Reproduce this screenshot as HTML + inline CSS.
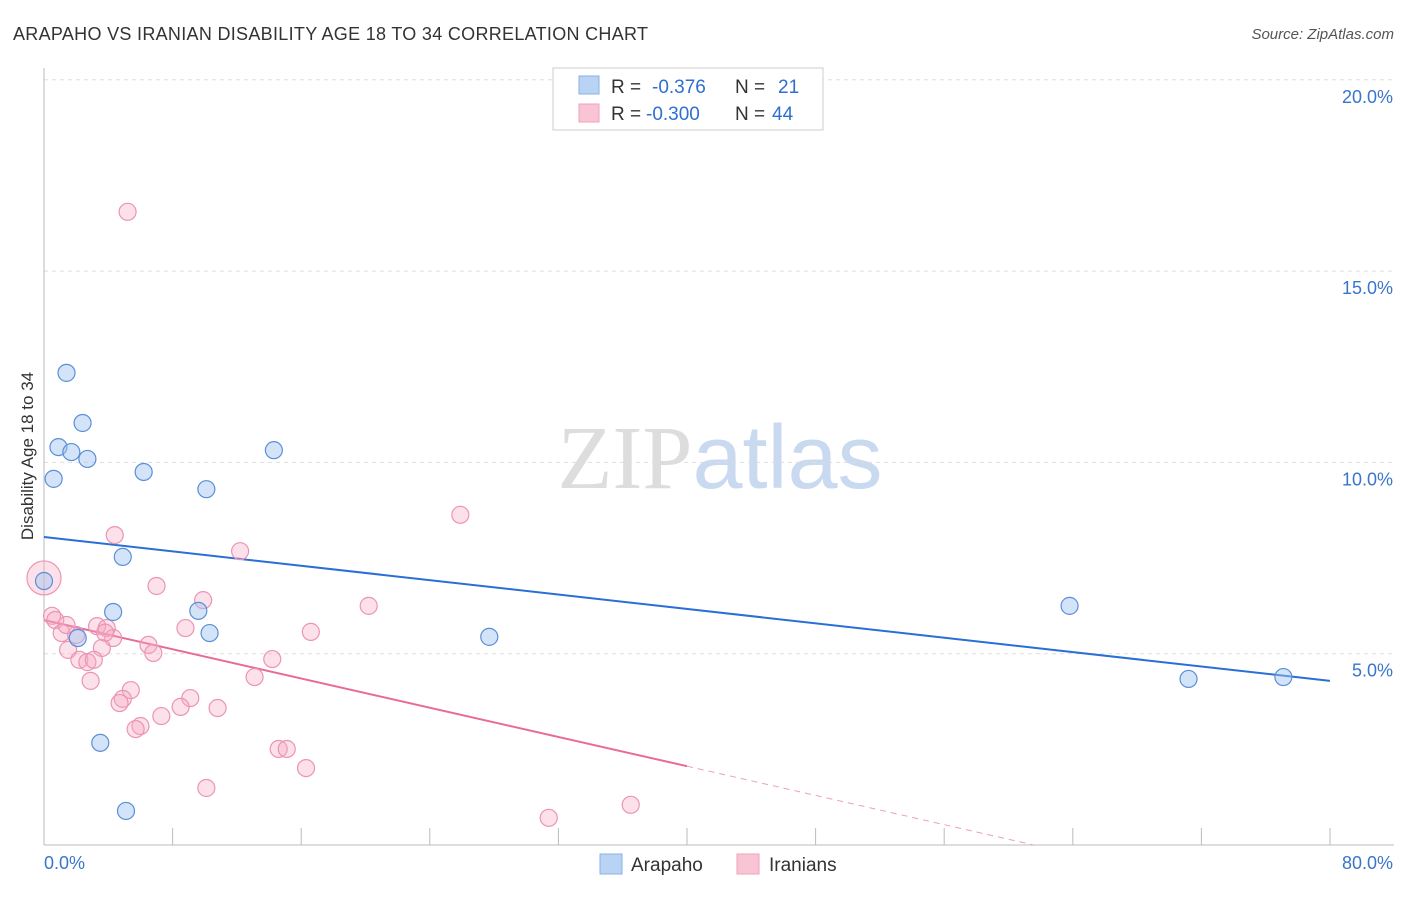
<!DOCTYPE html>
<html><head><meta charset="utf-8"><style>
body{margin:0;background:#fff;font-family:"Liberation Sans",sans-serif}
svg text{font-family:"Liberation Sans",sans-serif}
</style></head><body>
<svg id="chart" width="1406" height="892" viewBox="0 0 1406 892" xmlns="http://www.w3.org/2000/svg">
<text x="13" y="40" font-size="18" fill="#333" textLength="635">ARAPAHO VS IRANIAN DISABILITY AGE 18 TO 34 CORRELATION CHART</text>
<text x="1394" y="39" font-size="15" fill="#555" text-anchor="end" font-style="italic">Source: ZipAtlas.com</text>
<text x="720" y="488" font-size="90" text-anchor="middle"><tspan fill="#ddd" font-family="Liberation Serif">ZIP</tspan><tspan fill="#c9d9ef">atlas</tspan></text>
<g id="grid"></g>
<g id="axes"></g>
<g id="lines"></g>
<g id="points"></g>
<text transform="translate(33,456) rotate(-90)" font-size="17" fill="#333" text-anchor="middle">Disability Age 18 to 34</text>
<g>
<rect x="553" y="68" width="270" height="62" fill="#fff" stroke="#ccc"/>
<rect x="579" y="76" width="20" height="18" fill="#b9d3f5" stroke="#8ab0e6"/>
<rect x="579" y="104" width="20" height="18" fill="#f9c5d5" stroke="#eea2ba"/>
<text x="611" y="93" font-size="19" fill="#333">R =</text>
<text x="652" y="93" font-size="19" fill="#2f6fd0">-0.376</text>
<text x="735" y="93" font-size="19" fill="#333">N =</text>
<text x="778" y="93" font-size="19" fill="#2f6fd0">21</text>
<text x="611" y="120" font-size="19" fill="#333">R =</text>
<text x="646" y="120" font-size="19" fill="#2f6fd0">-0.300</text>
<text x="735" y="120" font-size="19" fill="#333">N =</text>
<text x="772" y="120" font-size="19" fill="#2f6fd0">44</text>
</g>
<g>
<rect x="600" y="854" width="22" height="20" fill="#b9d3f5" stroke="#8ab0e6"/>
<text x="631" y="871" font-size="19" fill="#333">Arapaho</text>
<rect x="737" y="854" width="22" height="20" fill="#f9c5d5" stroke="#eea2ba"/>
<text x="769" y="871" font-size="19" fill="#333">Iranians</text>
</g>
</svg>
<script>
const yTicks=[5,10,15,20];
const yTickLabels=["5.0%","10.0%","15.0%","20.0%"];
const xTickCount=10;
const arapahoX=[0,1.4,0.9,0.6,1.7,2.4,2.7,6.2,10.1,14.3,4.9,4.3,9.6,10.3,2.1,3.5,5.1,27.7,63.8,71.2,77.1];
const arapahoY=[6.9,12.34,10.4,9.57,10.27,11.03,10.09,9.75,9.3,10.32,7.53,6.09,6.12,5.54,5.41,2.67,0.89,5.44,6.25,4.34,4.39];
const iranX=[5.2,25.9,0,0.5,0.7,4.4,12.2,7.0,9.9,20.2,1.1,2.0,3.3,3.9,4.3,8.8,16.6,6.5,6.8,1.5,3.6,2.2,2.7,3.1,14.2,2.9,13.1,5.4,4.9,4.7,9.1,8.5,10.8,7.3,6.0,5.7,14.6,15.1,16.3,10.1,36.5,31.4,1.4,3.8];
const iranY=[16.55,8.63,6.98,5.99,5.88,8.1,7.68,6.77,6.4,6.25,5.54,5.49,5.72,5.67,5.41,5.67,5.57,5.23,5.02,5.1,5.15,4.84,4.78,4.84,4.86,4.29,4.39,4.05,3.82,3.71,3.84,3.61,3.58,3.37,3.11,3.03,2.51,2.51,2.01,1.49,1.05,0.71,5.75,5.55];
const arapahoTrend=[8.05,4.29];
const iranTrend=[5.88,2.06];
const NS="http://www.w3.org/2000/svg";
const X=v=>44+v*(1286/80), Y=v=>845-v*38.26;
function mk(t,a,p){const e=document.createElementNS(NS,t);for(const k in a)e.setAttribute(k,a[k]);p.appendChild(e);return e;}
const grid=document.getElementById('grid'),axes=document.getElementById('axes'),lines=document.getElementById('lines'),pts=document.getElementById('points');
yTicks.forEach((t,i)=>{
 let g=mk('line',{x1:44,x2:1394,y1:Y(t),y2:Y(t),stroke:'#ddd','stroke-dasharray':'4,4'},grid);
 
 
 let l=mk('text',{x:1393,y:Y(t)+23,'font-size':18,fill:'#3a75cc','text-anchor':'end'},axes);
 l.textContent=yTickLabels[i];
 
 
});
mk('line',{x1:44,x2:44,y1:68,y2:845,stroke:'#bbb'},axes);
mk('line',{x1:44,x2:1394,y1:845,y2:845,stroke:'#bbb'},axes);
for(let i=0;i<=xTickCount;i++){let t=mk('line',{x1:X(i*8),x2:X(i*8),y1:828,y2:845,stroke:'#bbb'},axes);
 
 }
let a=mk('text',{x:44,y:869,'font-size':18,fill:'#3a75cc'},axes);a.textContent='0.0%';

let b=mk('text',{x:1393,y:869,'font-size':18,fill:'#3a75cc','text-anchor':'end'},axes);b.textContent='80.0%';

let bl=mk('line',{x1:X(0),y1:Y(arapahoTrend[0]),x2:X(80),y2:Y(arapahoTrend[1]),stroke:'#2a6fd6','stroke-width':2},lines);

let pl=mk('line',{x1:X(0),y1:Y(iranTrend[0]),x2:X(40),y2:Y(iranTrend[1]),stroke:'#e8699a','stroke-width':2},lines);

const sl=(iranTrend[1]-iranTrend[0])/40, xz=-iranTrend[0]/sl;
let pd=mk('line',{x1:X(40),y1:Y(iranTrend[1]),x2:X(xz),y2:Y(0),stroke:'#e8a0bb','stroke-width':1,'stroke-dasharray':'6,5'},lines);

iranX.forEach((x,i)=>{let c=mk('circle',{cx:X(x),cy:Y(iranY[i]),r:i==2?17:8.5,fill:'rgba(246,170,196,0.35)',stroke:'#eb94b3','stroke-width':1.2},pts);
 
 });
arapahoX.forEach((x,i)=>{let c=mk('circle',{cx:X(x),cy:Y(arapahoY[i]),r:8.5,fill:'rgba(160,196,240,0.45)',stroke:'#5b8fd8','stroke-width':1.2},pts);
 
 });
</script>
</body></html>
